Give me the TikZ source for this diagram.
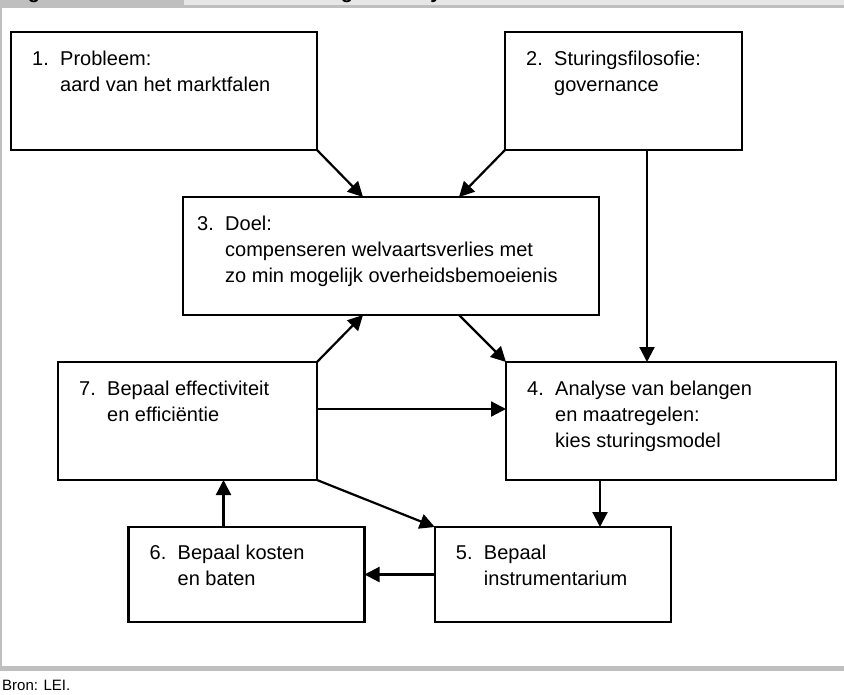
\documentclass[tikz,border=0pt]{standalone}
\usepackage{fontspec}
\setmainfont{Liberation Sans}
\usetikzlibrary{arrows.meta,calc}
\definecolor{framegray}{HTML}{BFBFBF}
\definecolor{tabgray}{HTML}{E6E6E6}
% lines of a box label, aligned on the first baseline
\newcommand{\boxlines}[1]{\begin{tabular}[t]{@{}l@{}}#1\end{tabular}}

\begin{document}
\begin{tikzpicture}[x=1pt,y=-1pt,
  box/.style={draw=black, line width=2.2pt, fill=white, inner sep=0pt, outer sep=0pt},
  lbl/.style={anchor=base west, inner sep=0pt, font=\fontsize{20}{26}\selectfont},
  arr/.style={line width=2.2pt, -{Triangle[length=15pt,width=15pt]}},
  head/.style={anchor=base, inner sep=0pt, font=\bfseries\fontsize{20}{20}\selectfont},
]
\useasboundingbox (0,0) rectangle (844,694);

% frame: header tabs, left rule and bottom rule
\fill[framegray] (0,0) rectangle (184,8);
\fill[tabgray] (184,0) rectangle (844,5);
\fill[framegray] (184,5) rectangle (844,8);
\fill[framegray] (0,8) rectangle (2,666);
\fill[framegray] (0,666) rectangle (844,671);

% descenders of the heading line
\begin{scope}
  \clip (0,0) rectangle (844,8);
  \node[head] (h1) at (34,-1.5) {g};
  \node[head] (h2) at (347,-1.5) {g};
  \node[head] (h3) at (436,-1.5) {y};
\end{scope}

% boxes
\node[box, minimum width=306pt, minimum height=118pt] (b1) at (164,91) {};
\node[box, minimum width=237pt, minimum height=118pt] (b2) at (623.5,91) {};
\node[box, minimum width=416pt, minimum height=118pt] (b3) at (391,256) {};
\node[box, minimum width=330pt, minimum height=118pt] (b4) at (671,421) {};
\node[box, minimum width=236pt, minimum height=95pt] (b5) at (552.75,574.5) {};
\node[box, minimum width=236pt, minimum height=95pt] (b6) at (246.5,574.5) {};
\node[box, minimum width=259pt, minimum height=118pt] (b7) at (187.5,421) {};

% labels
\node[lbl] (n1) at ($(b1.north west)+(21,33)$) {1.};
\node[lbl] (t1) at ($(b1.north west)+(49,33)$) {\boxlines{Probleem:\\aard van het marktfalen}};
\node[lbl] (n2) at ($(b2.north west)+(21,33)$) {2.};
\node[lbl] (t2) at ($(b2.north west)+(49,33)$) {\boxlines{Sturingsfilosofie:\\governance}};
\node[lbl] (n3) at ($(b3.north west)+(14,33)$) {3.};
\node[lbl] (t3) at ($(b3.north west)+(42,33)$) {\boxlines{Doel:\\compenseren welvaartsverlies met\\zo min mogelijk overheidsbemoeienis}};
\node[lbl] (n4) at ($(b4.north west)+(21,33)$) {4.};
\node[lbl] (t4) at ($(b4.north west)+(49,33)$) {\boxlines{Analyse van belangen\\en maatregelen:\\kies sturingsmodel}};
\node[lbl] (n5) at ($(b5.north west)+(21,32)$) {5.};
\node[lbl] (t5) at ($(b5.north west)+(49,32)$) {\boxlines{Bepaal\\instrumentarium}};
\node[lbl] (n6) at ($(b6.north west)+(21,32)$) {6.};
\node[lbl] (t6) at ($(b6.north west)+(49,32)$) {\boxlines{Bepaal kosten\\en baten}};
\node[lbl] (n7) at ($(b7.north west)+(21,33)$) {7.};
\node[lbl] (t7) at ($(b7.north west)+(49,33)$) {\boxlines{Bepaal effectiviteit\\en efficiëntie}};

% connectors
\draw[arr] (b1.south east) -- ($(b3.north west)+(180,0)$);
\draw[arr] (b2.south west) -- ($(b3.north west)+(276,0)$);
\draw[arr] ($(b2.south west)+(142,0)$) coordinate (p24) -- (p24 |- b4.north);
\draw[arr] (b7.north east) -- ($(b3.south west)+(180,0)$);
\draw[arr] ($(b3.south west)+(276,0)$) -- (b4.north west);
\draw[arr] ($(b7.east)+(0,-12)$) coordinate (p74) -- (p74 -| b4.west);
\draw[arr] (b7.south east) -- (b5.north west);
\draw[arr] ($(b4.south west)+(94,0)$) coordinate (p45) -- (p45 |- b5.north);
\draw[arr] (b5.west) -- (b6.east);
\draw[arr] ($(b6.north west)+(95,0)$) coordinate (p67) -- (p67 |- b7.south);

% source line
\node[anchor=base west, inner sep=0pt, font=\fontsize{15}{18}\selectfont] (src) at (2,690) {Bron: LEI.};
\end{tikzpicture}
\end{document}
